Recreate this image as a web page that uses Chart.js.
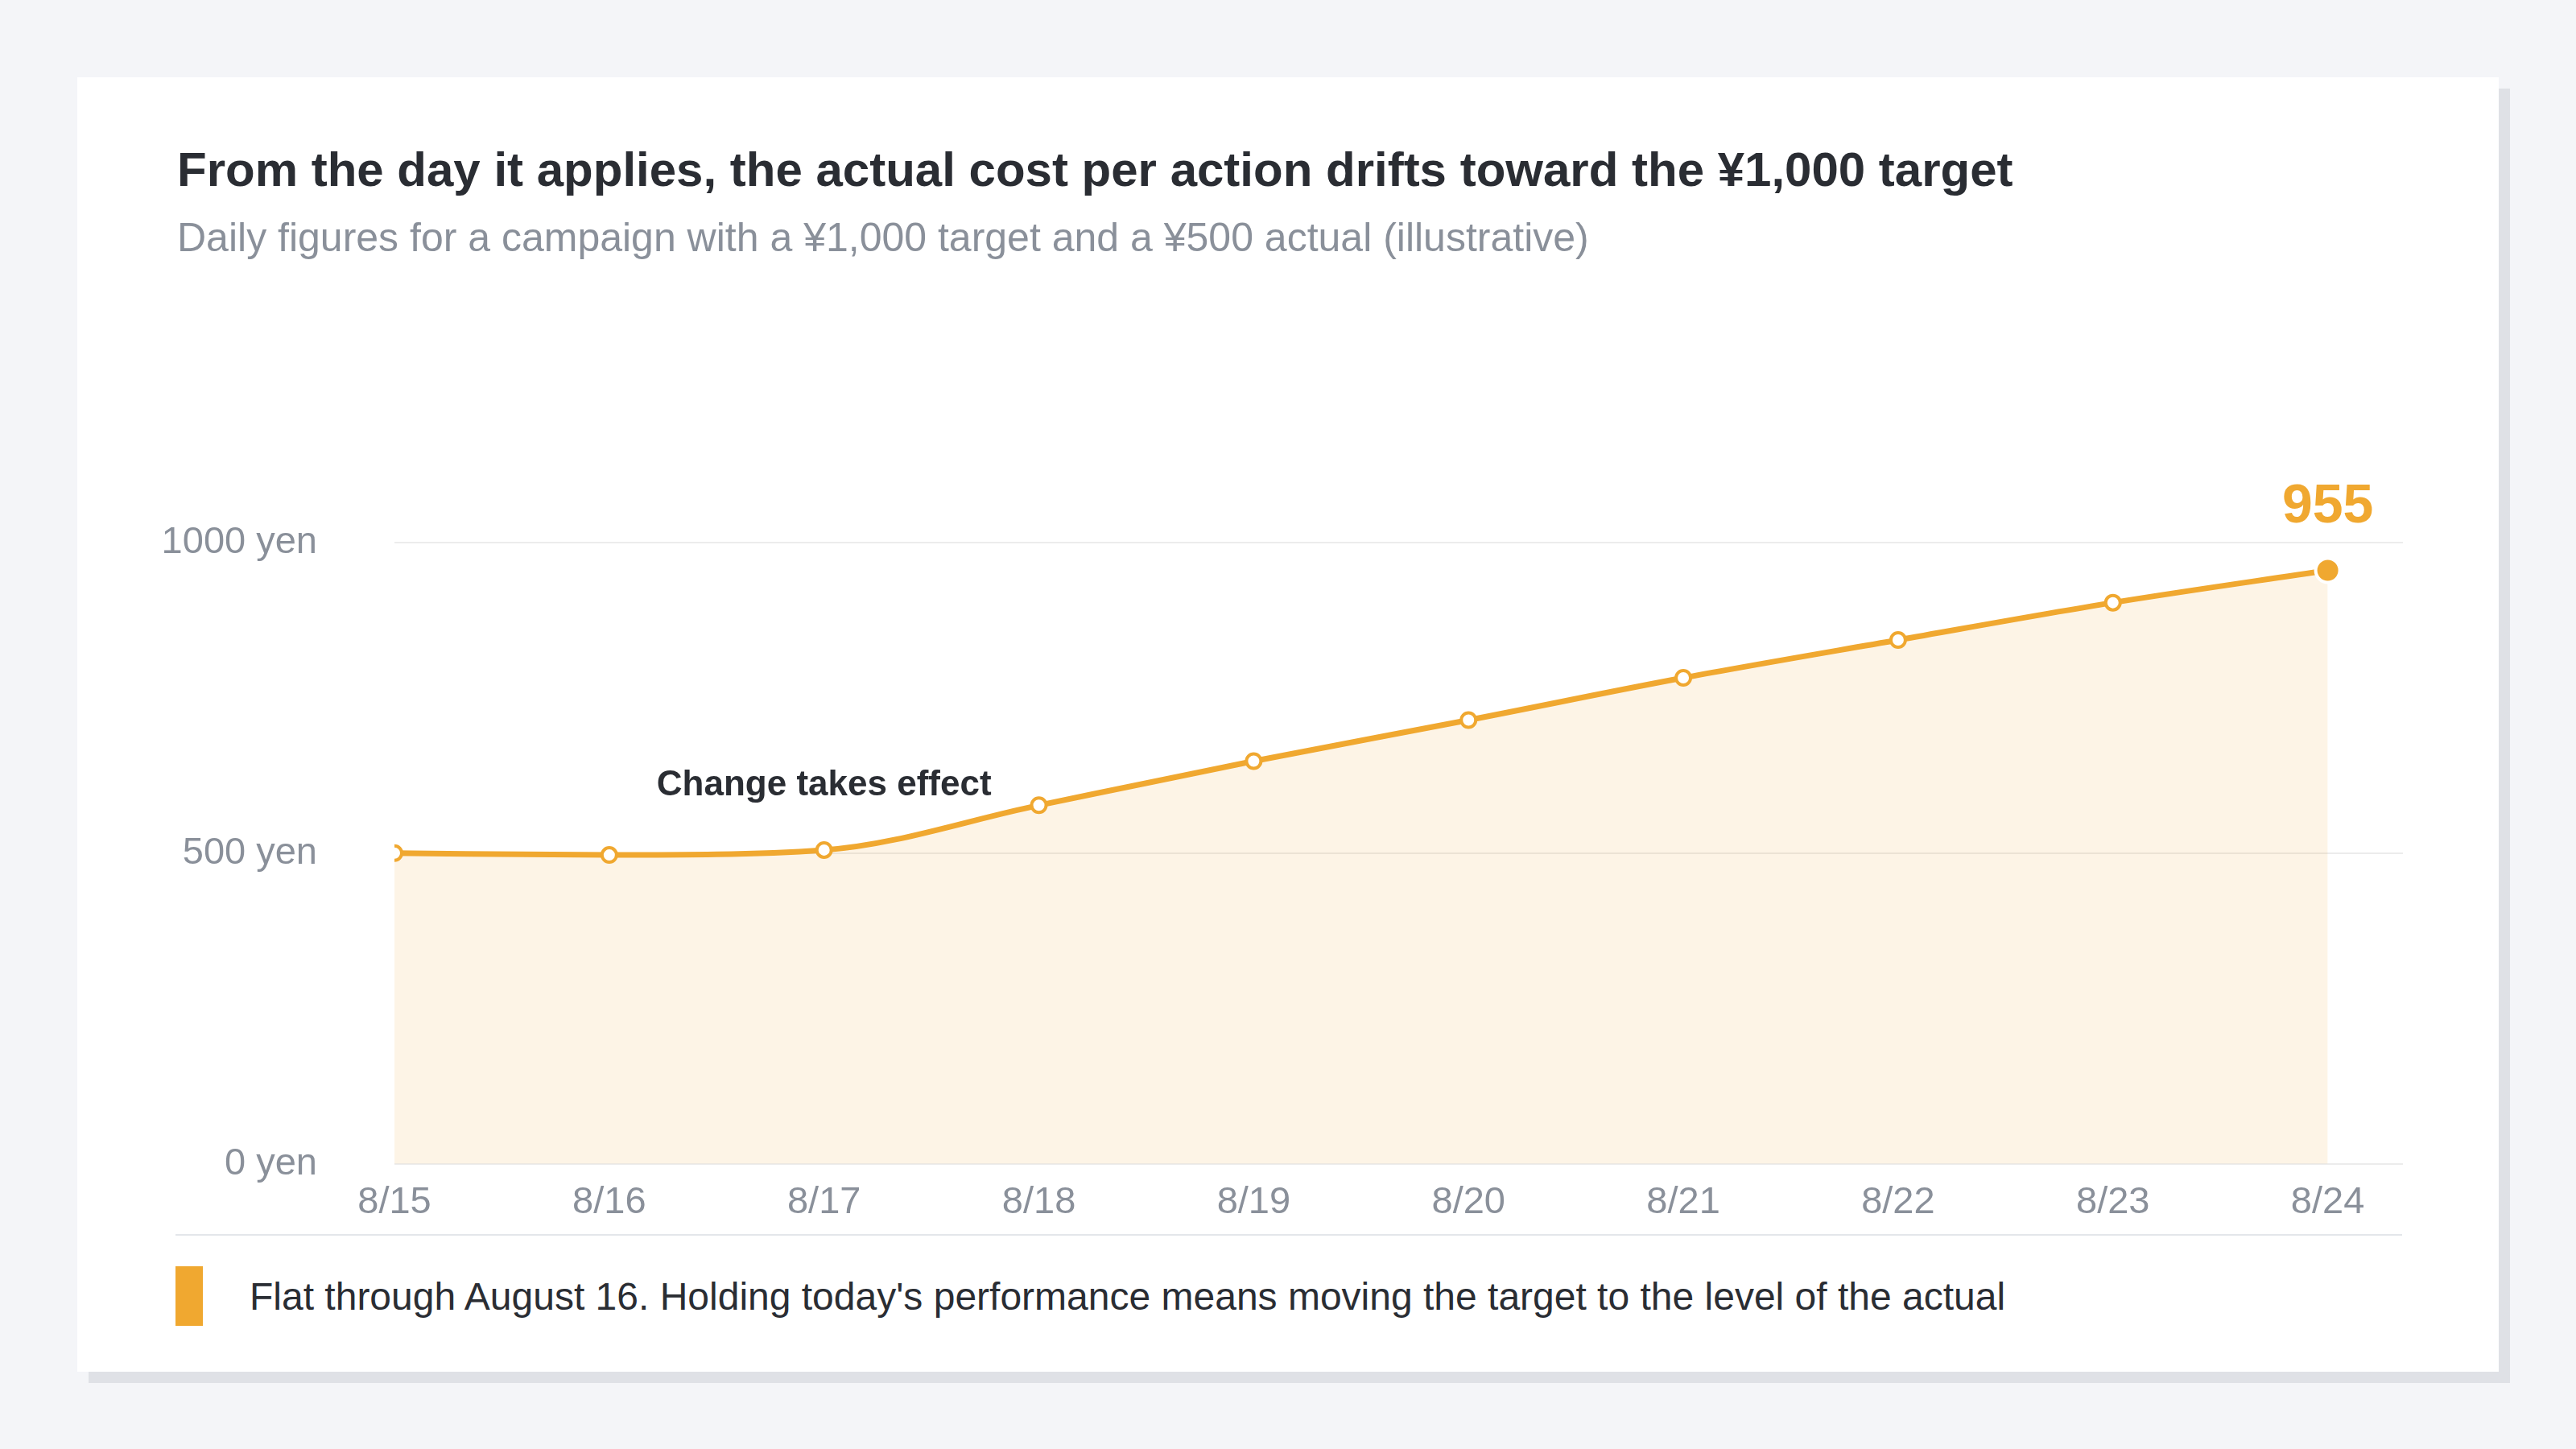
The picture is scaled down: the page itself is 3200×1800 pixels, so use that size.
<!DOCTYPE html>
<html>
<head>
<meta charset="utf-8">
<script src="https://cdn.jsdelivr.net/npm/chart.js@4"></script>
<style>
  body { margin: 0; width: 3200px; height: 1800px; background: #f4f5f8; font-family: "Liberation Sans", Arial, sans-serif; position: relative; }
  .card { position: absolute; left: 96px; top: 96px; width: 3008px; height: 1608px; background: #fff; box-shadow: 14px 14px 0 #dfe1e6; }
  .title { position: absolute; left: 124px; top: 80px; font-size: 60px; font-weight: bold; color: #2a2d33; }
  .subtitle { position: absolute; left: 124px; top: 170px; font-size: 50px; color: #8a909a; }
  .chartbox { position: absolute; left: 84px; top: 286px; width: 2824px; height: 1188px; }
  .sep { position: absolute; left: 122px; top: 1437px; width: 2766px; height: 2px; background: #e4e6ea; }
  .note { position: absolute; left: 122px; top: 1477px; height: 74px; display: flex; align-items: center; }
  .note .bar { width: 34px; height: 74px; background: #f0a830; margin-right: 58px; }
  .note span { font-size: 48px; color: #2a2d33; }
</style>
</head>
<body>
<div class="card">
  <div class="title">From the day it applies, the actual cost per action drifts toward the ¥1,000 target</div>
  <div class="subtitle">Daily figures for a campaign with a ¥1,000 target and a ¥500 actual (illustrative)</div>
  <div class="chartbox"><canvas id="c" width="2824" height="1188"></canvas></div>
  <div class="sep"></div>
  <div class="note"><div class="bar"></div><span>Flat through August 16. Holding today's performance means moving the target to the level of the actual</span></div>
</div>
<script>
const days = ['8/15', '8/16', '8/17', '8/18', '8/19', '8/20', '8/21', '8/22', '8/23', '8/24'];
const cpa = [500, 497, 505, 577, 648, 714, 782, 843, 903, 955];
const yTicks = [0, 500, 1000];
const annotationText = 'Change takes effect';
const annotationIndex = 2;

const orange = '#f0a830';
const last = cpa.length - 1;

const labelsPlugin = {
  id: 'labels',
  afterDatasetsDraw(chart) {
    const { ctx, scales } = chart;
    ctx.save();
    ctx.textAlign = 'center';
    ctx.textBaseline = 'bottom';
    ctx.fillStyle = '#2a2d33';
    ctx.font = 'bold 44px "Liberation Sans", Arial, sans-serif';
    ctx.fillText(annotationText, scales.x.getPixelForValue(annotationIndex), scales.y.getPixelForValue(cpa[annotationIndex]) - 58);
    ctx.fillStyle = orange;
    ctx.font = 'bold 68px "Liberation Sans", Arial, sans-serif';
    ctx.fillText(String(cpa[last]), scales.x.getPixelForValue(last), scales.y.getPixelForValue(cpa[last]) - 44);
    ctx.restore();
  }
};

new Chart(document.getElementById('c').getContext('2d'), {
  type: 'line',
  data: {
    datasets: [{
      data: cpa.map((v, i) => ({ x: i, y: v })),
      borderColor: orange,
      borderWidth: 7,
      backgroundColor: 'rgba(240, 168, 48, 0.12)',
      fill: 'origin',
      cubicInterpolationMode: 'monotone',
      pointRadius: cpa.map((v, i) => i === last ? 15 : 9),
      pointBackgroundColor: cpa.map((v, i) => i === last ? orange : '#fff'),
      pointBorderColor: cpa.map((v, i) => i === last ? '#fff' : orange),
      pointBorderWidth: 4
    }]
  },
  options: {
    responsive: false,
    animation: false,
    layout: { padding: 0 },
    plugins: { legend: { display: false }, tooltip: { enabled: false } },
    scales: {
      x: {
        type: 'linear',
        min: 0,
        max: 9.35,
        afterBuildTicks: s => { s.ticks = days.map((d, i) => ({ value: i })); },
        afterFit: s => { s.height = 123; },
        grid: { display: false },
        border: { display: false },
        ticks: { padding: 12, color: '#8a909a', font: { size: 47 }, callback: v => days[v] }
      },
      y: {
        min: 0,
        max: 1217,
        afterBuildTicks: s => { s.ticks = yTicks.map(v => ({ value: v })); },
        afterFit: s => { s.width = 310; },
        grid: { color: '#ececec', lineWidth: 2, drawTicks: false },
        border: { display: false },
        ticks: { padding: 96, color: '#8a909a', font: { size: 47 }, callback: v => v + ' yen' }
      }
    }
  },
  plugins: [labelsPlugin]
});
</script>
</body>
</html>
